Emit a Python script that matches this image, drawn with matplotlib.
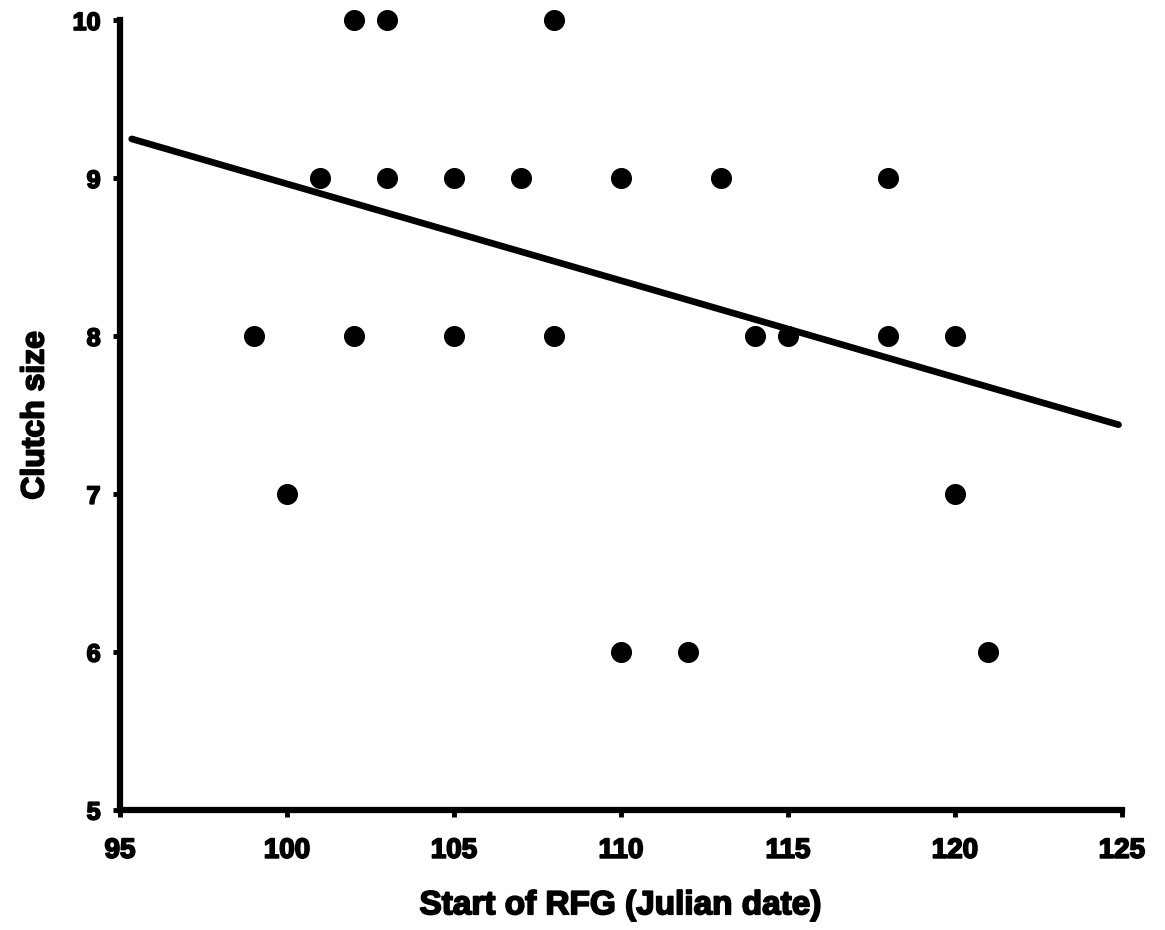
import matplotlib
matplotlib.use("Agg")
import matplotlib.pyplot as plt
import matplotlib.patheffects as pe

# clutch size vs start of RFG
start_day = [99, 100, 101, 102, 102, 103, 103, 105, 105, 107, 108, 108,
             110, 110, 112, 113, 114, 115, 118, 118, 120, 120, 121]
clutch = [8, 7, 9, 10, 8, 10, 9, 9, 8, 9, 10, 8,
          9, 6, 6, 9, 8, 8, 9, 8, 8, 7, 6]

# regression line end points
fit_x = [95.35, 124.9]
fit_y = [9.25, 7.44]

xticks = [95, 100, 105, 110, 115, 120, 125]
yticks = [5, 6, 7, 8, 9, 10]

plt.rcParams['font.family'] = ['Liberation Sans', 'DejaVu Sans']

# thicken the bold glyphs a little
heavy = [pe.withStroke(linewidth=1.3, foreground='black')]

fig = plt.figure(figsize=(11.65, 9.3), dpi=100)
ax = fig.add_axes([0.103, 0.129, 0.860, 0.849])

ax.plot(fit_x, fit_y, color='black', linewidth=4.8, solid_capstyle='round', zorder=2)
ax.scatter(start_day, clutch, s=200, color='black', zorder=3, clip_on=False)

ax.set_xlim(95, 125)
ax.set_ylim(5, 10)
ax.set_xticks(xticks)
ax.set_yticks(yticks)
ax.set_xticklabels([str(t) for t in xticks], fontsize=20, fontweight='bold', path_effects=heavy)
ax.set_yticklabels([str(t) for t in yticks], fontsize=18, fontweight='bold', path_effects=heavy)

for side in ['top', 'right']:
    ax.spines[side].set_visible(False)
for side in ['left', 'bottom']:
    ax.spines[side].set_linewidth(4.5)

ax.tick_params(axis='both', direction='out', length=5, width=3.5, color='black')
ax.tick_params(axis='x', pad=15)
ax.tick_params(axis='y', pad=9)

ax.set_xlabel('Start of RFG (Julian date)', fontsize=24, fontweight='bold',
              labelpad=19, path_effects=heavy)
ax.set_ylabel('Clutch size', fontsize=23, fontweight='bold',
              labelpad=16, path_effects=heavy)

fig.savefig('out.png', dpi=100, facecolor='white')
